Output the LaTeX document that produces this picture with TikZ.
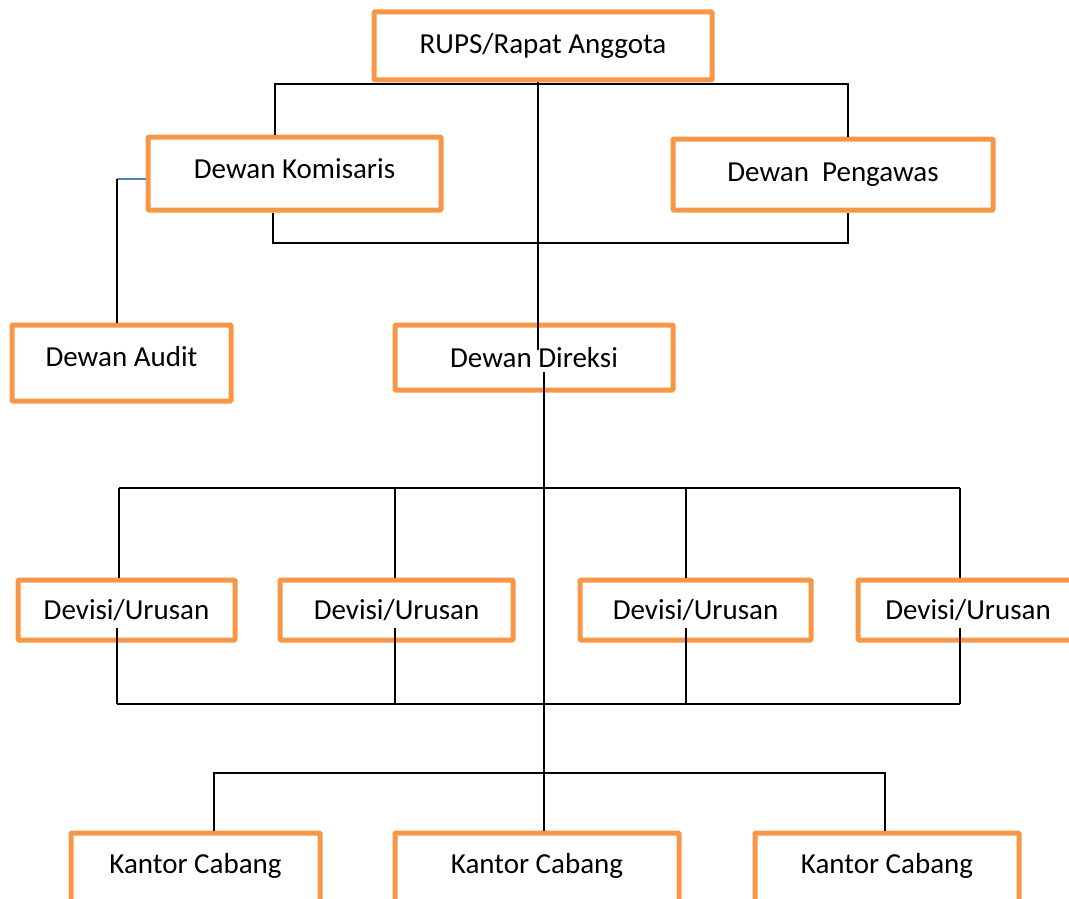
\documentclass[tikz,border=0pt]{standalone}
\usepackage{fontspec}
\setmainfont{Carlito}
\definecolor{boxorange}{HTML}{F79646}
\definecolor{linkblue}{HTML}{4F81BD}
\tikzset{
  box/.style={draw=boxorange, line width=5pt, rounded corners=1pt, inner sep=0pt,
    font=\fontsize{29}{35}\selectfont},
  kcbox/.style={box, anchor=north, text height=20pt, text depth=75pt, inner ysep=20pt},
  link/.style={line width=1.3pt},
}
\begin{document}
\begin{tikzpicture}[x=1pt, y=-1pt]
\useasboundingbox (0,0) rectangle (1069,899);

% boxes
\node[box, minimum width=338, minimum height=68] (rups) at (543,46) {RUPS/Rapat Anggota};
\node[box, minimum width=293, minimum height=73, text depth=9pt] (kom) at (294.5,173.5) {Dewan Komisaris};
\node[box, minimum width=320, minimum height=71] (peng) at (833,174.5) {Dewan~~Pengawas};
\node[box, minimum width=219, minimum height=76, text depth=13pt] (aud) at (121.5,363) {Dewan Audit};
\node[box, minimum width=278, minimum height=65] (dir) at (534,357.5) {Dewan Direksi};

\node[box, minimum width=217, minimum height=60] (dv1) at (126.5,610) {Devisi/Urusan};
\node[box, minimum width=233, minimum height=60] (dv2) at (396.5,610) {Devisi/Urusan};
\node[box, minimum width=231, minimum height=60] (dv3) at (695.5,610) {Devisi/Urusan};
\node[box, minimum width=220, minimum height=60] (dv4) at (968,610) {Devisi/Urusan};

\node[kcbox, minimum width=249] (kc1) at (195.5,830.5) {Kantor Cabang};
\node[kcbox, minimum width=284] (kc2) at (537,830.5) {Kantor Cabang};
\node[kcbox, minimum width=264] (kc3) at (887,830.5) {Kantor Cabang};

% RUPS down to Direksi
\coordinate (rupsdrop) at (538,350);
\draw[link] (rups.south -| rupsdrop) -- (rupsdrop);

% Komisaris / Pengawas
\coordinate (jkom) at (275,84);
\coordinate (jpeng) at (848,84);
\draw[link] (kom.north -| jkom) -- (jkom) -- (jpeng) -- (peng.north -| jpeng);
\coordinate (bkom) at (273,243);
\coordinate (bpeng) at (848,243);
\draw[link] (kom.south -| bkom) -- (bkom) -- (bpeng) -- (peng.south -| bpeng);

% Audit
\coordinate (jaud) at (117,179);
\draw[link, linkblue] (kom.west |- jaud) -- (jaud);
\draw[link] (jaud) -- (aud.north -| jaud);

% Direksi down to Kantor Cabang
\coordinate (dirdrop) at (544,372);
\draw[link] (dirdrop) -- (kc2.north -| dirdrop);

% Devisi/Urusan
\foreach \i/\xt/\xb in {1/119/117, 2/395/395, 3/686/686, 4/960/960} {
  \coordinate (dvt\i) at (\xt,488);
  \coordinate (dvm\i) at (\xb,628);
  \coordinate (dvb\i) at (\xb,704);
  \draw[link] (dvt\i) -- (dv\i.north -| dvt\i);
  \draw[link] (dvm\i) -- (dvb\i);
}
\draw[link] (dvt1) -- (dvt4);
\draw[link] (dvb1) -- (dvb4);

% Kantor Cabang
\coordinate (kcj1) at (214,773);
\coordinate (kcj3) at (885,773);
\draw[link] (kc1.north -| kcj1) -- (kcj1) -- (kcj3) -- (kc3.north -| kcj3);
\end{tikzpicture}
\end{document}
